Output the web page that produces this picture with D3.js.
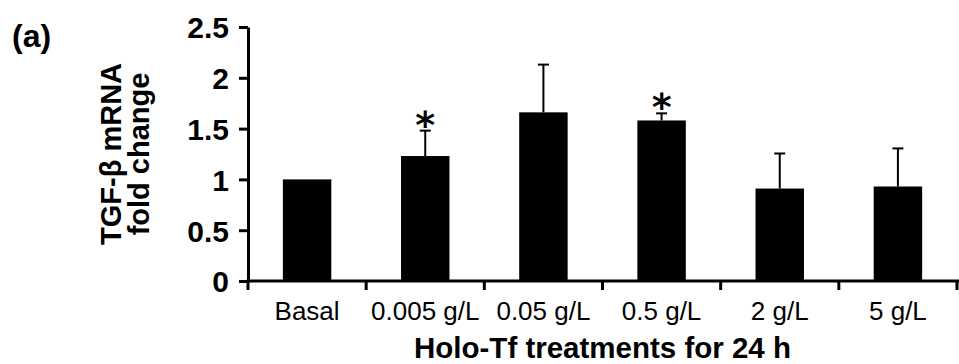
<!DOCTYPE html>
<html>
  <head>
    <meta charset="utf-8" />
    <title>TGF-beta mRNA fold change</title>
    <style>
      html, body {
        margin: 0;
        padding: 0;
        background-color: white;
      }
      svg text {
        font-family: Arial, "Liberation Sans", sans-serif;
        fill: black;
      }
      .yAxis text {
        font-weight: bold;
        font-size: 30px;
      }
      .xLabel {
        font-size: 26px;
      }
    </style>
  </head>

  <body>
    <script src="https://d3js.org/d3.v7.min.js"></script>
    <script>
      var categories = ["Basal", "0.005 g/L", "0.05 g/L", "0.5 g/L", "2 g/L", "5 g/L"];
      var means = [1.0, 1.23, 1.66, 1.58, 0.91, 0.93];
      var errors = [0, 0.25, 0.47, 0.07, 0.345, 0.375];
      var significant = [false, true, false, true, false, false];
      var yTicks = [0, 0.5, 1, 1.5, 2, 2.5];

      var w = 959;
      var h = 364;
      var plotLeft = 248, plotRight = 957, plotTop = 27, plotBottom = 281;

      var svg = d3.select("body")
        .append("svg")
        .attr("width", w)
        .attr("height", h);

      var x = d3.scaleBand()
        .domain(categories)
        .range([plotLeft, plotRight])
        .paddingInner(0.59)
        .paddingOuter(0.295);

      var y = d3.scaleLinear()
        .domain([0, 2.5])
        .range([plotBottom, plotTop]);

      var rows = categories.map(function (c, i) {
        return { cat: c, mean: means[i], err: errors[i], sig: significant[i] };
      });

      // bars
      svg.selectAll(".bar")
        .data(rows)
        .enter()
        .append("rect")
        .attr("class", "bar")
        .attr("x", function (d) { return x(d.cat); })
        .attr("y", function (d) { return y(d.mean); })
        .attr("width", x.bandwidth())
        .attr("height", function (d) { return y(0) - y(d.mean); })
        .attr("fill", "black");

      // error bars (upper only)
      var eb = svg.selectAll(".err")
        .data(rows.filter(function (d) { return d.err > 0; }))
        .enter()
        .append("g")
        .attr("class", "err")
        .attr("stroke", "black")
        .attr("stroke-width", 2);

      eb.append("line")
        .attr("x1", function (d) { return x(d.cat) + x.bandwidth() / 2; })
        .attr("x2", function (d) { return x(d.cat) + x.bandwidth() / 2; })
        .attr("y1", function (d) { return y(d.mean); })
        .attr("y2", function (d) { return y(d.mean + d.err); });

      eb.append("line")
        .attr("x1", function (d) { return x(d.cat) + x.bandwidth() / 2 - 5.5; })
        .attr("x2", function (d) { return x(d.cat) + x.bandwidth() / 2 + 5.5; })
        .attr("y1", function (d) { return y(d.mean + d.err); })
        .attr("y2", function (d) { return y(d.mean + d.err); });

      // significance stars
      svg.selectAll(".star")
        .data(rows.filter(function (d) { return d.sig; }))
        .enter()
        .append("text")
        .attr("class", "star")
        .attr("x", function (d) { return x(d.cat) + x.bandwidth() / 2; })
        .attr("y", function (d) { return y(d.mean + d.err) + 7; })
        .attr("text-anchor", "middle")
        .style("font-family", "'DejaVu Sans', sans-serif")
        .style("font-weight", "bold")
        .style("font-size", "38px")
        .text("*");

      // y axis
      var yAxis = d3.axisLeft(y)
        .tickValues(yTicks)
        .tickFormat(function (d) { return d; })
        .tickSize(9)
        .tickSizeOuter(0)
        .tickPadding(10);

      var gy = svg.append("g")
        .attr("class", "yAxis")
        .attr("transform", "translate(" + plotLeft + ",0)")
        .call(yAxis);
      gy.selectAll("line").attr("stroke", "black").attr("stroke-width", 3);
      gy.select(".domain").attr("stroke", "black").attr("stroke-width", 3);
      gy.selectAll("text").attr("dy", "0.36em");

      // x axis line and separator ticks
      svg.append("line")
        .attr("x1", plotLeft - 1.5)
        .attr("x2", plotRight + 2)
        .attr("y1", y(0))
        .attr("y2", y(0))
        .attr("stroke", "black")
        .attr("stroke-width", 3);

      var bounds = categories.map(function (c) {
        return x(c) + x.bandwidth() / 2 - x.step() / 2;
      });
      bounds.push(plotRight);

      svg.selectAll(".xTick")
        .data(bounds)
        .enter()
        .append("line")
        .attr("class", "xTick")
        .attr("x1", function (d) { return d; })
        .attr("x2", function (d) { return d; })
        .attr("y1", y(0))
        .attr("y2", y(0) + 9)
        .attr("stroke", "black")
        .attr("stroke-width", 3);

      svg.selectAll(".xLabel")
        .data(categories)
        .enter()
        .append("text")
        .attr("class", "xLabel")
        .attr("x", function (d) { return x(d) + x.bandwidth() / 2; })
        .attr("y", 320)
        .attr("text-anchor", "middle")
        .text(function (d) { return d; });

      // axis titles
      svg.append("text")
        .attr("x", (plotLeft + plotRight) / 2)
        .attr("y", 358)
        .attr("text-anchor", "middle")
        .style("font-weight", "bold")
        .style("font-size", "29.5px")
        .text("Holo-Tf treatments for 24 h");

      var yt = svg.append("text")
        .attr("transform", "translate(121," + ((plotTop + plotBottom) / 2) + ") rotate(-90)")
        .attr("text-anchor", "middle")
        .style("font-weight", "bold")
        .style("font-size", "29px");
      yt.append("tspan").attr("x", 0).attr("y", 0).text("TGF-β mRNA");
      yt.append("tspan").attr("x", 0).attr("y", 28).text("fold change");

      // panel letter
      svg.append("text")
        .attr("x", 12)
        .attr("y", 47)
        .style("font-weight", "bold")
        .style("font-size", "32px")
        .text("(a)");
    </script>
  </body>
</html>
